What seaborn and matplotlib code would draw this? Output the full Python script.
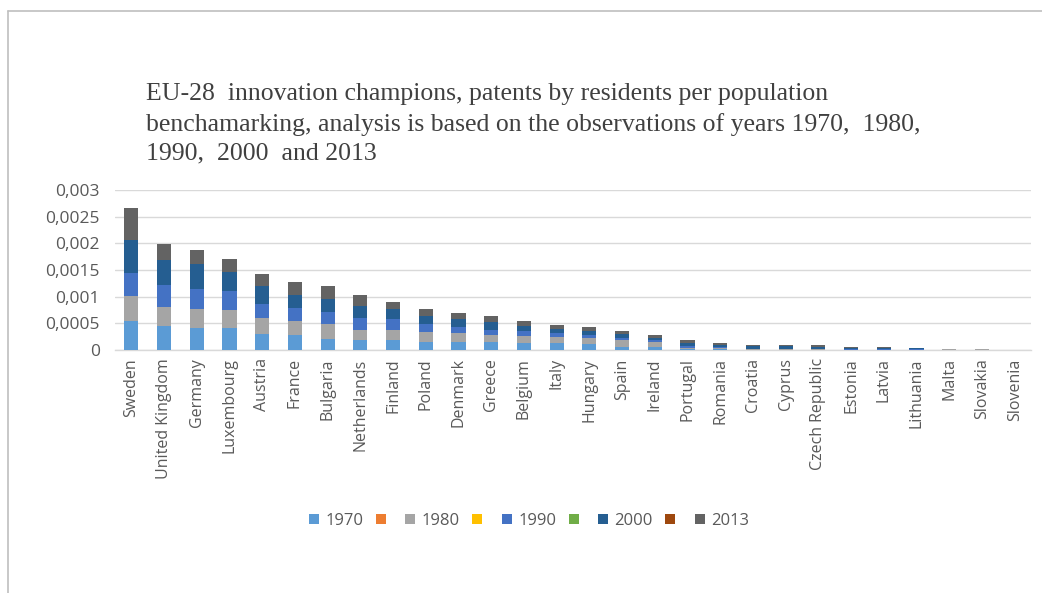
import numpy as np
import pandas as pd
import matplotlib
matplotlib.use("Agg")
import matplotlib.pyplot as plt
from matplotlib.patches import Patch
from matplotlib.lines import Line2D
import seaborn as sns

countries = ["Sweden", "United Kingdom", "Germany", "Luxembourg", "Austria", "France",
             "Bulgaria", "Netherlands", "Finland", "Poland", "Denmark", "Greece",
             "Belgium", "Italy", "Hungary", "Spain", "Ireland", "Portugal", "Romania",
             "Croatia", "Cyprus", "Czech Republic", "Estonia", "Latvia", "Lithuania",
             "Malta", "Slovakia", "Slovenia"]

v1970 = [0.000536, 0.000443, 0.000405, 0.000405, 0.000293, 0.000274, 0.000212, 0.000193,
         0.000187, 0.000156, 0.000156, 0.000156, 0.000137, 0.000131, 0.000112, 0.00006,
         0.00005, 0.00001, 0.00001, 0.000005, 0.000005, 0.000005, 0.000003, 0.000003,
         0.000002, 0.000002, 0.000002, 0.0]
v1980 = [0.00048, 0.000368, 0.000368, 0.000343, 0.000306, 0.000262, 0.000268, 0.000187,
         0.00018, 0.000175, 0.000156, 0.000131, 0.000131, 0.000118, 0.000112, 0.00012,
         0.0001, 0.00003, 0.00002, 0.00001, 0.000005, 0.00001, 0.000005, 0.000005,
         0.000005, 0.000015, 0.000015, 0.0]
v1990 = [0.00043, 0.000399, 0.000362, 0.000349, 0.000268, 0.000256, 0.000231, 0.000212,
         0.000212, 0.000162, 0.000112, 0.000094, 0.000094, 0.000069, 0.000062, 0.00004,
         0.00004, 0.00004, 0.00002, 0.00001, 0.00001, 0.00001, 0.000008, 0.000008,
         0.000005, 0.000003, 0.000003, 0.0]
v2000 = [0.00061, 0.000486, 0.000486, 0.000368, 0.00033, 0.000243, 0.00025, 0.000237,
         0.000193, 0.000143, 0.000156, 0.000137, 0.000081, 0.000069, 0.000062, 0.00008,
         0.00004, 0.00006, 0.00005, 0.00005, 0.00005, 0.00004, 0.000025, 0.000028,
         0.000018, 0.000002, 0.000002, 0.0]
v2013 = [0.0006, 0.000293, 0.00025, 0.00025, 0.000225, 0.000237, 0.000237, 0.000193,
         0.000131, 0.000131, 0.000112, 0.000119, 0.000094, 0.000075, 0.000075, 0.00006,
         0.00005, 0.00005, 0.00003, 0.00002, 0.00003, 0.00002, 0.000015, 0.000016,
         0.00001, 0.000003, 0.000003, 0.0]

# legend entries (unnamed series carry no data)
series_labels = ["1970", "", "1980", "", "1990", "", "2000", "", "2013"]
series_values = [v1970, None, v1980, None, v1990, None, v2000, None, v2013]
series_colors = ["#5B9BD5", "#ED7D31", "#A5A5A5", "#FFC000", "#4472C4",
                 "#70AD47", "#255E91", "#9E480E", "#636363"]

ytick_values = [0, 0.0005, 0.001, 0.0015, 0.002, 0.0025, 0.003]
ytick_labels = ["0", "0,0005", "0,001", "0,0015", "0,002", "0,0025", "0,003"]

title = ("EU-28  innovation champions, patents by residents per population\n"
         "benchamarking, analysis is based on the observations of years 1970,  1980,\n"
         "1990,  2000  and 2013")

sns.set_theme(style="white")
plt.rcParams["font.family"] = ["Open Sans", "DejaVu Sans"]
text_col = "#595959"
grid_col = "#D9D9D9"

fig = plt.figure(figsize=(10.42, 5.93), dpi=100)
ax = fig.add_axes([115 / 1042, 1 - 350 / 593, (1031 - 115) / 1042, 160 / 593])

bottom = np.zeros(len(countries))
for lab, vals, col in zip(series_labels, series_values, series_colors):
    if vals is None:
        continue
    df = pd.DataFrame({"country": countries, "value": vals})
    sns.barplot(data=df, x="country", y="value", order=countries, bottom=bottom,
                color=col, saturation=1, width=0.43, linewidth=0, ax=ax,
                errorbar=None, zorder=3)
    bottom = bottom + np.array(vals)

ax.set_xlim(-0.5, len(countries) - 0.5)
ax.set_ylim(0, 0.003)
ax.set_yticks(ytick_values)
ax.set_yticklabels(ytick_labels, color=text_col, fontsize=12.5)
ax.set_xticks(range(len(countries)))
ax.set_xticklabels(countries, rotation=90, color=text_col, fontsize=11.5)
ax.tick_params(axis="both", length=0)
ax.tick_params(axis="y", pad=11)
ax.tick_params(axis="x", pad=6)
ax.set_xlabel("")
ax.set_ylabel("")
ax.grid(axis="y", color=grid_col, linewidth=1, zorder=0)
ax.grid(axis="x", visible=False)
for s in ["top", "right", "left"]:
    ax.spines[s].set_visible(False)
ax.spines["bottom"].set_color(grid_col)
ax.spines["bottom"].set_linewidth(1)
ax.set_zorder(1)

fig.text(146 / 1042, 1 - 83 / 593, title, family=["Liberation Serif"], fontsize=18.5,
         color="#404040", ha="left", va="top", linespacing=1.42)

handles = [Patch(facecolor=c, edgecolor="none", label=l) for l, c in zip(series_labels, series_colors)]
fig.legend(handles=handles, loc="center", bbox_to_anchor=(529 / 1042, 1 - 521 / 593),
           ncol=9, frameon=False, fontsize=12, labelcolor=text_col,
           handlelength=0.6, handleheight=0.6, handletextpad=0.4, columnspacing=0.75)

# chart frame (top and left borders as in the reference)
fig.add_artist(Line2D([8 / 1042, 8 / 1042], [0, 1 - 11 / 593], transform=fig.transFigure,
                      color="#BFBFBF", linewidth=1.2))
fig.add_artist(Line2D([8 / 1042, 1], [1 - 11 / 593, 1 - 11 / 593], transform=fig.transFigure,
                      color="#BFBFBF", linewidth=1.2))

fig.savefig("out.png", dpi=100, facecolor="white")
